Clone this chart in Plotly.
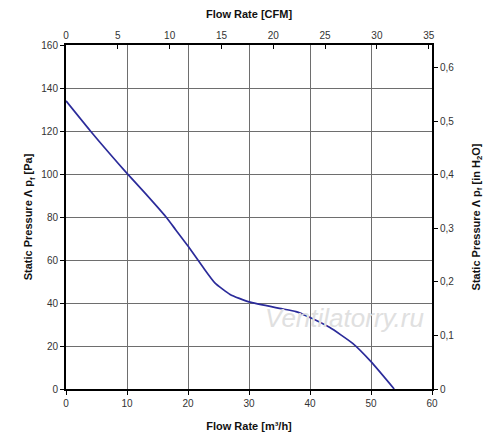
import plotly.graph_objects as go

# Fan curve data
flow_m3h = [0, 4, 7, 10, 13, 16.4, 18, 20, 22.5, 24.4, 26.9, 30, 35, 37.7, 40, 43.2, 47, 50, 53.8]
pressure_pa = [134, 120, 110, 100.3, 91, 80, 74, 66.5, 56.5, 49.4, 44, 40.5, 37.5, 36, 33.3, 28.7, 21.2, 12.7, 0]

M3H_PER_CFM = 1.699
PA_PER_INH2O = 249.09

flow_cfm = [v / M3H_PER_CFM for v in flow_m3h]
pressure_inh2o = [v / PA_PER_INH2O for v in pressure_pa]

FONT = "Liberation Sans, Arial, sans-serif"
tickfont = dict(family=FONT, size=10, color="#333333")
titlefont = dict(family=FONT, size=11, color="#111111")

fig = go.Figure()
fig.add_trace(go.Scatter(x=flow_m3h, y=pressure_pa, mode="lines",
                         line=dict(color="#2b2b9a", width=1.7, shape="spline", smoothing=0.5),
                         showlegend=False))
fig.add_trace(go.Scatter(x=flow_cfm, y=pressure_inh2o, mode="lines", xaxis="x2", yaxis="y2",
                         line=dict(color="rgba(0,0,0,0)", width=0), showlegend=False,
                         hoverinfo="skip"))

fig.add_annotation(x=0.762, y=0.206, xref="paper", yref="paper", xanchor="center", yanchor="middle",
                   text="<i>Ventilatorry.ru</i>",
                   showarrow=False, font=dict(family=FONT, size=26, color="#e0e0e0"))

fig.update_layout(
    width=500, height=440,
    margin=dict(l=58, r=76, t=37, b=59),
    paper_bgcolor="white", plot_bgcolor="white",
    separators=", ",
    xaxis=dict(range=[0, 60], dtick=10, showgrid=True, gridcolor="#6e6e6e", gridwidth=1,
               showline=True, linecolor="black", linewidth=2, mirror=False,
               ticks="outside", ticklen=4, tickcolor="black", tickfont=tickfont,
               zeroline=False, automargin=False,
               title=dict(text="<b>Flow Rate [m³/h]</b>", font=titlefont, standoff=14)),
    xaxis2=dict(range=[0, 60 / M3H_PER_CFM], dtick=5, overlaying="x", side="top",
                showgrid=False, showline=True, linecolor="black", linewidth=2,
                ticks="inside", ticklen=4, tickcolor="black", tickfont=tickfont,
                zeroline=False, automargin=False,
                title=dict(text="<b>Flow Rate [CFM]</b>", font=titlefont, standoff=12)),
    yaxis=dict(range=[0, 160], dtick=20, showgrid=True, gridcolor="#6e6e6e", gridwidth=1,
               showline=True, linecolor="black", linewidth=2,
               ticks="outside", ticklen=4, tickcolor="black", tickfont=tickfont,
               zeroline=False, automargin=False,
               title=dict(text="<b>Static Pressure Λ p<sub>f</sub> [Pa]</b>", font=titlefont, standoff=6)),
    yaxis2=dict(range=[0, 160 / PA_PER_INH2O], dtick=0.1, overlaying="y", side="right",
                showgrid=False, showline=True, linecolor="black", linewidth=2,
                ticks="outside", ticklen=4, tickcolor="black", tickfont=tickfont,
                zeroline=False, automargin=False,
                title=dict(text="<b>Static Pressure Λ p<sub>f</sub> [in H<sub>2</sub>O]</b>", font=titlefont, standoff=19)),
)

fig.write_html("out.html")
